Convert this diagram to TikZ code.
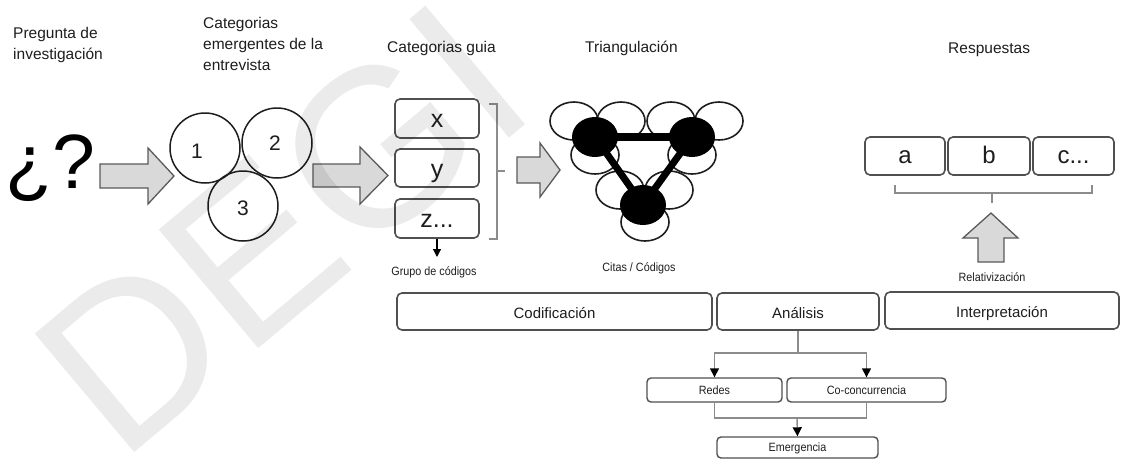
\documentclass[tikz,border=0pt]{standalone}
\usepackage{fontspec}
\setmainfont{Liberation Sans}
\usetikzlibrary{arrows.meta,shapes.geometric}
\definecolor{ink}{HTML}{1E1E1E}
\definecolor{edgeclr}{HTML}{505050}
\definecolor{connclr}{HTML}{8C8C8C}
\definecolor{arrfill}{HTML}{D9D9D9}
\definecolor{arredge}{HTML}{5A5A5A}
\newcommand{\cond}[1]{\scalebox{0.9}[1]{#1}}
\begin{document}
\begin{tikzpicture}[x=1pt,y=-1pt,
  toplabel/.style={anchor=north west, inner sep=0pt, align=left, text=ink, font=\fontsize{15.5}{21}\selectfont},
  rbox/.style={draw=edgeclr, line width=1.6pt, rounded corners=5pt, inner sep=0pt, text=ink},
  bigbox/.style={rbox, minimum height=37pt, text height=14pt, text depth=0pt, font=\fontsize{15}{18}\selectfont},
  smallbox/.style={rbox, line width=1.4pt, rounded corners=4pt, text height=8.6pt, text depth=0pt, font=\fontsize{12}{14}\selectfont},
  letterbox/.style={rbox, font=\fontsize{25}{28}\selectfont, minimum width=84pt, text height=18pt, text depth=0pt},
  ansbox/.style={rbox, font=\fontsize{24}{28}\selectfont, minimum height=38pt, text height=14pt, text depth=0pt},
  smallnote/.style={inner sep=0pt, text=ink, font=\fontsize{12}{14}\selectfont},
  ringcirc/.style={draw=ink, line width=1.5pt, circle, minimum size=70pt, inner sep=0pt},
  digit/.style={inner sep=0pt, text=ink, font=\fontsize{21}{24}\selectfont},
  ringell/.style={draw=ink, line width=1.6pt},
  blackell/.style={ellipse, fill=black, minimum width=46pt, minimum height=40pt, inner sep=0pt},
  blockarrow/.style={fill=arrfill, draw=arredge, line width=1.3pt, line join=miter},
  treeline/.style={draw=connclr, line width=1.4pt},
  bracketline/.style={draw=connclr, line width=1.3pt},
  headtip/.style={-{Triangle[length=9pt,width=9pt,color=black]}},
]
\fill[white] (0,0) rectangle (1122,459);
\useasboundingbox (0,0) rectangle (1122,459);

% titles
\node[toplabel] (t1) at (13,27) {Pregunta de\\investigación};
\node[toplabel] (t2) at (203,17) {Categorias\\emergentes de la\\entrevista};
\node[toplabel] (t3) at (387,41) {Categorias guia};
\node[toplabel] (t4) at (585,41) {Triangulación};
\node[toplabel] (t5) at (948,43) {Respuestas};

% question marks
\node[anchor=base west, inner sep=0pt, text=black, font=\fontsize{77}{80}\selectfont] (q) at (5,188) {¿?};

% block arrows
\draw[blockarrow] (100,164) -- (148,164) -- (148,148) -- (174,176) -- (148,204) -- (148,188) -- (100,188) -- cycle;
\draw[blockarrow] (313,164) -- (360,164) -- (360,147) -- (388,175.5) -- (360,204) -- (360,187) -- (313,187) -- cycle;
\draw[blockarrow] (517,157) -- (540,157) -- (540,143) -- (560,170) -- (540,197) -- (540,183) -- (517,183) -- cycle;
\draw[blockarrow] (978,262) -- (978,238) -- (963,238) -- (991,213) -- (1018,238) -- (1004,238) -- (1004,262) -- cycle;

% emerging categories
\node[ringcirc] (c1) at (205,148) {};
\node[ringcirc] (c2) at (277,143) {};
\node[ringcirc] (c3) at (243,206) {};
\node[digit] (d1) at (197,151) {1};
\node[digit] (d2) at (275,143) {2};
\node[digit] (d3) at (243,208) {3};

% guide categories
\node[letterbox, minimum height=39pt] (bx) at (437,118.5) {x};
\node[letterbox, minimum height=38pt] (by) at (437,168) {y};
\node[letterbox, minimum height=39pt] (bz) at (437,218.5) {z...};
\draw[bracketline] (489,104) -- (497,104) -- (497,239) -- (489,239);
\draw[bracketline] (497,171) -- (505,171);
\coordinate (gtip) at (437,257);
\draw[draw=black, line width=1.2pt, -{Triangle[length=8pt,width=8pt]}] (bz.south) -- (gtip);
\node[smallnote] (gc) at (434,272) {\cond{Grupo de códigos}};

% triangulation
\foreach \cx/\cy in {574/121, 621/121, 671/121, 719/121, 595/155, 692/155, 620/190, 669/190, 645/222}
  \draw[ringell] (\cx,\cy) ellipse [x radius=24pt, y radius=19pt];
\node[blackell] (k1) at (595,137) {};
\node[blackell] (k2) at (692,137) {};
\node[blackell] (k3) at (643,205) {};
\draw[black, line width=8pt] (k1.center) -- (k2.center);
\draw[black, line width=7pt] (k1.center) -- (k3.center);
\draw[black, line width=7pt] (k2.center) -- (k3.center);
\node[smallnote] (cc0) at (639,268) {\cond{Citas / Códigos}};

% answers
\node[ansbox, minimum width=80pt] (ra) at (905,156) {a};
\node[ansbox, minimum width=82pt] (rb) at (989,156) {b};
\node[ansbox, minimum width=81pt] (rc) at (1073.5,156) {c...};
\draw[bracketline] (895,185) -- (895,193) -- (1092,193) -- (1092,185);
\draw[bracketline] (992,193) -- (992,203);
\node[smallnote] (rel) at (992,277) {\cond{Relativización}};

% bottom stages
\node[bigbox, minimum width=315pt] (cod) at (554.5,311.5) {Codificación};
\node[bigbox, minimum width=162pt] (an) at (798,311.5) {Análisis};
\node[bigbox, minimum width=234pt] (int) at (1002,310.5) {Interpretación};

% analysis tree
\node[smallbox, minimum width=135pt, minimum height=24pt] (rd) at (714.5,390) {\cond{Redes}};
\node[smallbox, minimum width=159pt, minimum height=24pt] (co) at (866.5,390) {\cond{Co-concurrencia}};
\node[smallbox, minimum width=161pt, minimum height=21pt] (em) at (797.5,447.5) {\cond{Emergencia}};
\coordinate (j1) at (798,353);
\coordinate (j2) at (797,418);
\draw[treeline] (an.south) -- (j1);
\draw[treeline, headtip] (j1) -| (rd.north);
\draw[treeline, headtip] (j1) -| (co.north);
\draw[treeline] (rd.south) |- (j2);
\draw[treeline] (co.south) |- (j2);
\draw[treeline, headtip] (j2) -- (em.north);

% watermark
\node[rotate=40, anchor=base west, inner sep=0pt, text=black, text opacity=0.08, font=\fontsize{225}{225}\selectfont] (wm) at (120,465) {DEGI};
\end{tikzpicture}
\end{document}
